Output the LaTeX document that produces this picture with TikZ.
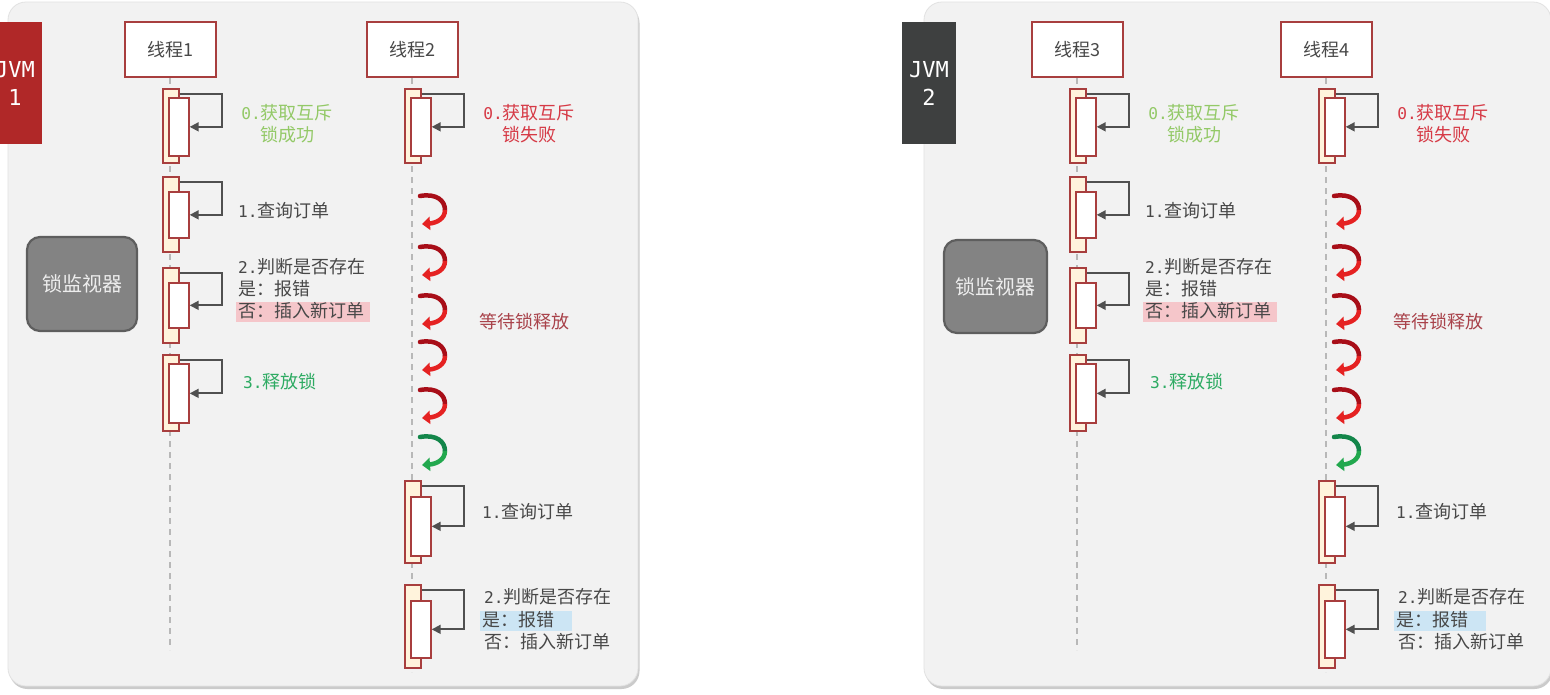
\documentclass[tikz,border=0pt]{standalone}
\usepackage{fontspec}
\setmainfont{Noto Sans CJK SC}
\newfontfamily\mono{DejaVu Sans Mono}[Scale=0.9]
\newfontfamily\jvmfont{DejaVu Sans Mono}
\usetikzlibrary{arrows.meta,shadows,calc}
\definecolor{panelbg}{HTML}{F2F2F2}
\definecolor{panelbd}{HTML}{E2E2E2}
\definecolor{boxred}{HTML}{A83E3E}
\definecolor{cream}{HTML}{FFF3DC}
\definecolor{txtgray}{HTML}{484848}
\definecolor{arrgray}{HTML}{505050}
\definecolor{lgreen}{HTML}{93C967}
\definecolor{dgreen}{HTML}{2EAB63}
\definecolor{redtxt}{HTML}{D63A46}
\definecolor{waittxt}{HTML}{A9434B}
\definecolor{pinkhl}{HTML}{F5C6CA}
\definecolor{bluehl}{HTML}{CCE5F4}
\definecolor{jvmred}{HTML}{B02828}
\definecolor{jvmgray}{HTML}{3E4040}
\definecolor{curldark}{HTML}{A80E18}
\definecolor{curlred}{HTML}{E52222}
\definecolor{curlgdark}{HTML}{13864A}
\definecolor{curlgreen}{HTML}{22A84E}
\definecolor{mongray}{HTML}{838383}
\definecolor{monborder}{HTML}{5E5E5E}

\tikzset{
  panel/.style={fill=panelbg, draw=panelbd, line width=0.8pt, rounded corners=18pt,
    drop shadow={shadow xshift=1.5pt, shadow yshift=-3pt, fill=black!45, opacity=0.45}},
  threadbox/.style={draw=boxred, fill=white, line width=2pt, minimum width=91pt,
    minimum height=55pt, inner sep=0pt, text=txtgray, font=\fontsize{18}{22}\selectfont},
  lifeline/.style={draw=black!28, line width=1.3pt, dash pattern=on 6pt off 5pt},
  outerbar/.style={draw=boxred, fill=cream, line width=1.7pt, minimum width=16pt, inner sep=0pt},
  innerbar/.style={draw=boxred, fill=white, line width=1.7pt, minimum width=20pt, inner sep=0pt},
  selfarrow/.style={draw=arrgray, line width=1.8pt, -{Triangle[length=9pt,width=9pt]}},
  lbl/.style={inner sep=0pt, text=txtgray, text height=14pt, text depth=3pt,
    font=\fontsize{18}{22}\selectfont},
  jvmbox/.style={minimum width=54pt, minimum height=122pt, inner sep=0pt, text=white,
    align=center, font=\jvmfont\fontsize{22}{28}\selectfont},
  monitor/.style={draw=monborder, line width=2.2pt, fill=mongray, rounded corners=13pt,
    inner sep=0pt, text=white!93!black, font=\fontsize{20}{22}\selectfont},
}

\newcommand\mkact[6]{%
  \node[outerbar, anchor=north west, minimum height={(#4-#3)*1pt}] (#1o) at (#2-8,#3) {};
  \node[innerbar, anchor=north west, minimum height={(#6-#5)*1pt}] (#1i) at (#2-2,#5) {};
  \draw[selfarrow] ([yshift=-6pt]#1o.north east) -- ++(42,0) |- (#1i.east);
}
\newcommand\mkcurl[4]{%
  \draw[draw=#3, line width=4.5pt, line cap=round]
    (#1+8,#2-14) .. controls (#1+25,#2-17) and (#1+33,#2-9) .. (#1+33,#2);
  \draw[draw=#4, line width=4.5pt, -{Triangle[length=8pt,width=13pt]}]
    (#1+33,#2) .. controls (#1+33,#2+9) and (#1+24,#2+13) .. (#1+10,#2+14);
}
\newcommand\mkleftcol[3]{%
  \node[threadbox] (#1th) at (#2,49.5) {#3};
  \coordinate (#1end) at (#2,650);
  \draw[lifeline] (#1th.south) -- (#1end);
  \mkact{#1a0}{#2}{88}{162}{97}{155}
  \mkact{#1a1}{#2}{176}{251}{191}{237}
  \mkact{#1a2}{#2}{267}{342}{282}{327}
  \mkact{#1a3}{#2}{354}{430}{363}{422}
  \node[lbl, text=lgreen] (#1t0a) at (#2+117,114) {{\mono 0.}获取互斥};
  \node[lbl, text=lgreen] (#1t0b) at (#2+117,136) {锁成功};
  \node[lbl, anchor=west] (#1t1) at (#2+68,212) {{\mono 1.}查询订单};
  \node[lbl, anchor=west] (#1t2a) at (#2+68,268) {{\mono 2.}判断是否存在};
  \node[lbl, anchor=west] (#1t2b) at (#2+68,290) {是：报错};
  \node[lbl, anchor=west, fill=pinkhl, inner xsep=2pt, inner ysep=1.5pt, text width=130pt, align=left]
    (#1t2c) at (#2+66,312) {否：插入新订单};
  \node[lbl, anchor=west, text=dgreen] (#1t3) at (#2+73,383) {{\mono 3.}释放锁};
}
\newcommand\mkrightcol[3]{%
  \node[threadbox] (#1th) at (#2,49.5) {#3};
  \coordinate (#1end) at (#2,672);
  \draw[lifeline] (#1th.south) -- (#1end);
  \mkact{#1b0}{#2}{88}{162}{97}{155}
  \mkact{#1b1}{#2}{480}{562}{496}{555}
  \mkact{#1b2}{#2}{584}{667}{600}{657}
  \node[lbl, text=redtxt] (#1u0a) at (#2+117,114) {{\mono 0.}获取互斥};
  \node[lbl, text=redtxt] (#1u0b) at (#2+117,136) {锁失败};
  \mkcurl{#2}{210}{curldark}{curlred}
  \mkcurl{#2}{261}{curldark}{curlred}
  \mkcurl{#2}{310}{curldark}{curlred}
  \mkcurl{#2}{356}{curldark}{curlred}
  \mkcurl{#2}{404}{curldark}{curlred}
  \mkcurl{#2}{451}{curlgdark}{curlgreen}
  \node[lbl, anchor=west, text=waittxt] (#1wait) at (#2+67,323) {等待锁释放};
  \node[lbl, anchor=west] (#1u1) at (#2+70,513) {{\mono 1.}查询订单};
  \node[lbl, anchor=west] (#1u2a) at (#2+72,598) {{\mono 2.}判断是否存在};
  \node[lbl, anchor=west, fill=bluehl, inner xsep=2pt, inner ysep=1.5pt, text width=88pt, align=left]
    (#1u2b) at (#2+68,621) {是：报错};
  \node[lbl, anchor=west] (#1u2c) at (#2+72,643) {否：插入新订单};
}

\begin{document}
\begin{tikzpicture}[x=1pt,y=-1pt]
\useasboundingbox (0,0) rectangle (1550,694);
\fill[white] (0,0) rectangle (1550,694);

% panels
\path[panel] (8,2) rectangle (638,686);
\path[panel] (924,2) rectangle (1551,686);

% JVM labels
\node[jvmbox, fill=jvmred] (jvm1) at (15,83) {JVM\\1};
\node[jvmbox, fill=jvmgray] (jvm2) at (929,83) {JVM\\2};

% lock monitors
\node[monitor, minimum width=110pt, minimum height=94pt] (mon1) at (82,284) {锁监视器};
\node[monitor, minimum width=103pt, minimum height=93pt] (mon2) at (995.5,286.5) {锁监视器};

% threads
\mkleftcol{p}{170}{线程1}
\mkrightcol{q}{412}{线程2}
\mkleftcol{r}{1077}{线程3}
\mkrightcol{s}{1326}{线程4}
\end{tikzpicture}
\end{document}
